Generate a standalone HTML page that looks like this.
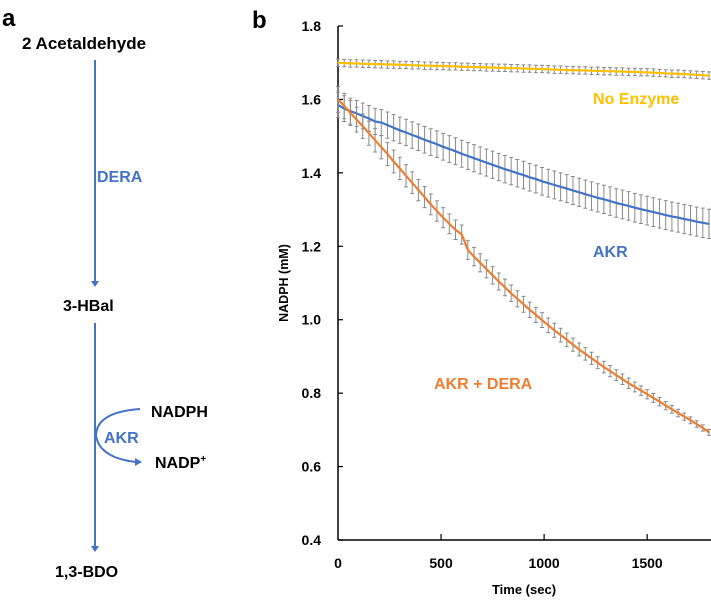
<!DOCTYPE html>
<html><head><meta charset="utf-8"><style>
body{margin:0;background:#fff;}
svg{display:block;font-family:"Liberation Sans",sans-serif;font-weight:bold;}
</style></head><body>
<svg id="fig" width="711" height="601" viewBox="0 0 711 601">
<g>
<text x="2" y="26" font-size="24">a</text>
<text x="22" y="49" font-size="17">2 Acetaldehyde</text>
<line x1="95" y1="60" x2="95" y2="282" stroke="#4472C4" stroke-width="2"/>
<polygon points="91,281 99,281 95,287" fill="#4472C4"/>
<text x="97" y="182" font-size="16" fill="#4472C4">DERA</text>
<text x="63" y="311" font-size="16">3-HBal</text>
<line x1="95" y1="323" x2="95" y2="547" stroke="#4472C4" stroke-width="2"/>
<polygon points="91,546 99,546 95,552" fill="#4472C4"/>
<path d="M140,409 Q96,412 96,436 Q100,458 136,462" fill="none" stroke="#4472C4" stroke-width="2"/>
<polygon points="135,458 142,462 135,466" fill="#4472C4"/>
<text x="104" y="443" font-size="16" fill="#4472C4">AKR</text>
<text x="151" y="417" font-size="16">NADPH</text>
<text x="155" y="468" font-size="16">NADP<tspan font-size="10" dy="-6">+</tspan></text>
<text x="55" y="577" font-size="16">1,3-BDO</text>
</g>
<text x="252" y="28" font-size="24">b</text>
<g id="chart"></g>
</svg>
<script>
const times=[];for(let t=0;t<=1800;t+=30)times.push(t);
const noEnzyme=[1.700,1.699,1.698,1.698,1.697,1.697,1.696,1.696,1.695,1.695,1.694,1.694,1.693,1.693,1.692,1.692,1.691,1.691,1.690,1.690,1.689,1.689,1.688,1.688,1.687,1.687,1.686,1.686,1.685,1.685,1.684,1.684,1.683,1.683,1.682,1.681,1.681,1.680,1.680,1.679,1.679,1.678,1.678,1.677,1.677,1.676,1.676,1.675,1.675,1.674,1.674,1.673,1.672,1.671,1.670,1.670,1.669,1.668,1.667,1.666,1.665];
const akr=[1.585,1.575,1.568,1.562,1.555,1.548,1.540,1.537,1.530,1.523,1.516,1.510,1.503,1.497,1.490,1.484,1.478,1.471,1.465,1.459,1.452,1.446,1.440,1.434,1.428,1.422,1.416,1.410,1.405,1.399,1.394,1.388,1.383,1.377,1.372,1.367,1.362,1.357,1.352,1.347,1.342,1.337,1.332,1.328,1.323,1.318,1.314,1.310,1.305,1.301,1.297,1.293,1.289,1.285,1.281,1.278,1.274,1.271,1.267,1.264,1.261];
const akrDera=[1.600,1.582,1.563,1.545,1.527,1.508,1.489,1.470,1.451,1.431,1.412,1.392,1.373,1.353,1.334,1.314,1.296,1.278,1.261,1.245,1.232,1.190,1.172,1.155,1.138,1.121,1.104,1.088,1.072,1.057,1.042,1.027,1.013,0.999,0.985,0.971,0.958,0.945,0.932,0.919,0.907,0.895,0.883,0.871,0.860,0.849,0.838,0.827,0.817,0.807,0.797,0.787,0.777,0.766,0.756,0.746,0.736,0.726,0.716,0.705,0.693];
const errNoEnzyme=0.010;
const errAkr=[0.035,0.04];
const errAkrDera=[0.035,0.008];
const yTicks=[0.4,0.6,0.8,1.0,1.2,1.4,1.6,1.8];
const xTicks=[0,500,1000,1500];

const X0=338,X1=709,Y0=540,Y1=26;
const sx=v=>X0+(v/1800)*(X1-X0);
const sy=v=>Y0-(v-0.4)/1.4*(Y0-Y1);
const NS="http://www.w3.org/2000/svg";
const g=document.getElementById('chart');
function mk(tag,attrs,parent){const e=document.createElementNS(NS,tag);for(const k in attrs)e.setAttribute(k,attrs[k]);(parent||g).appendChild(e);return e;}

let e=mk('line',{x1:X0,y1:Y1,x2:X0,y2:Y0,stroke:'#000','stroke-width':1.5});


e=mk('line',{x1:X0,y1:Y0,x2:X1+2,y2:Y0,stroke:'#000','stroke-width':1.5});


yTicks.forEach(v=>{
  const t=mk('line',{x1:X0,y1:sy(v),x2:X0+5,y2:sy(v),stroke:'#000','stroke-width':1.2});
  
  
  const l=mk('text',{x:321,y:sy(v)+5,'font-size':14,'text-anchor':'end'});
  l.textContent=v.toFixed(1);
  
  
});
xTicks.forEach(v=>{
  if(v>0){const t=mk('line',{x1:sx(v),y1:Y0,x2:sx(v),y2:Y0-6,stroke:'#000','stroke-width':1.2});
  
  }
  const l=mk('text',{x:sx(v),y:568,'font-size':14,'text-anchor':'middle'});
  l.textContent=v;
  
  
});
e=mk('text',{x:524,y:594,'font-size':13,'text-anchor':'middle'});
e.textContent='Time (sec)';


e=mk('text',{x:0,y:0,'font-size':12.5,'text-anchor':'middle',transform:'translate(288,283) rotate(-90)'});
e.textContent='NADPH (mM)';



function series(vals,errFn,color,name){
  const eg=mk('g',{stroke:'#8a8a8a','stroke-width':1});
  
  
  vals.forEach((v,i)=>{
    const x=sx(times[i]),er=errFn(i),a=sy(v+er),b=sy(v-er);
    const p=mk('path',{d:`M${x},${a}V${b}M${x-2},${a}h4M${x-2},${b}h4`,fill:'none'},eg);
    
    
  });
  const d=vals.map((v,i)=>(i?'L':'M')+sx(times[i]).toFixed(1)+','+sy(v).toFixed(1)).join('');
  const p=mk('path',{d,fill:'none',stroke:color,'stroke-width':2.2});
  
  
}
const n=times.length-1;
series(akr,i=>errAkr[0]+(errAkr[1]-errAkr[0])*i/n,'#4472C4','akr');
series(akrDera,i=>errAkrDera[0]+(errAkrDera[1]-errAkrDera[0])*i/n,'#ED7D31','akr-dera');
series(noEnzyme,i=>errNoEnzyme,'#FFC000','no-enzyme');

e=mk('text',{x:593,y:104,'font-size':16,fill:'#FFC000'});
e.textContent='No Enzyme';


e=mk('text',{x:593,y:257,'font-size':16,fill:'#4472C4'});
e.textContent='AKR';


e=mk('text',{x:434,y:389,'font-size':16,fill:'#ED7D31'});
e.textContent='AKR + DERA';


</script>
</body></html>
